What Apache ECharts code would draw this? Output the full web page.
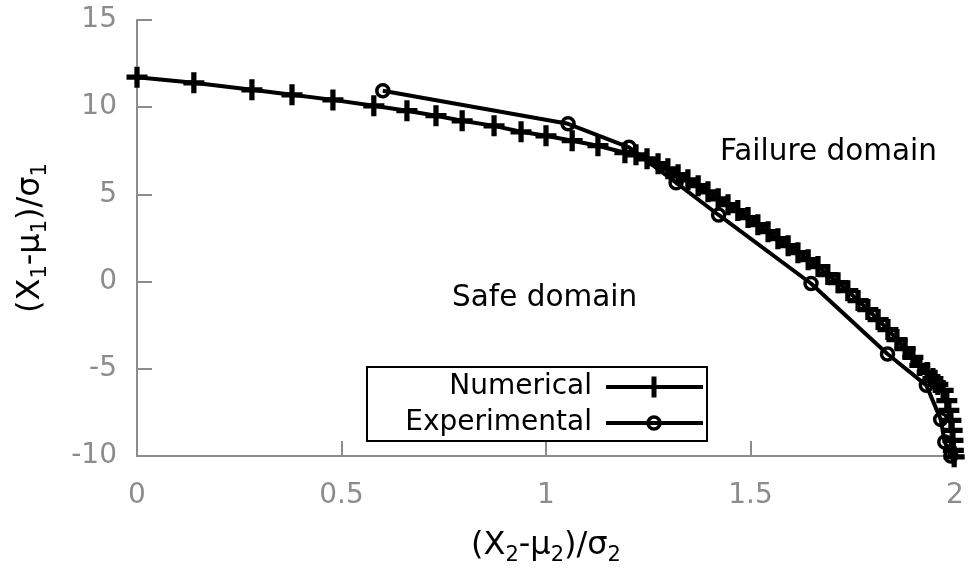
<!DOCTYPE html>
<html>
<head>
<meta charset="utf-8">
<script src="https://cdn.jsdelivr.net/npm/echarts@6/dist/echarts.min.js"></script>
<style>
  html, body { margin: 0; padding: 0; background: #fff; }
  #chart { width: 968px; height: 574px; }
</style>
</head>
<body>
<div id="chart"></div>
<script>
// Limit-state curve in standardised coordinates: u2 = (X2-mu2)/sigma2, u1 = (X1-mu1)/sigma1
const numericalU2 = [0, 0.139, 0.281, 0.379, 0.479, 0.579, 0.660, 0.731, 0.795, 0.873, 0.939, 1.0, 1.064, 1.127, 1.193,
  1.220, 1.247, 1.274, 1.298, 1.323, 1.347, 1.372, 1.396, 1.421, 1.445, 1.469, 1.494, 1.518, 1.543, 1.567, 1.592,
  1.616, 1.641, 1.665, 1.689, 1.714, 1.738, 1.763, 1.787, 1.812, 1.836, 1.858, 1.878, 1.897, 1.914, 1.932, 1.946,
  1.958, 1.971, 1.980, 1.985, 1.990, 1.993, 1.995, 1.996, 1.998];
const numericalU1 = [11.72, 11.40, 11.00, 10.71, 10.42, 10.08, 9.80, 9.51, 9.22, 8.93, 8.59, 8.36, 8.08, 7.79, 7.39,
  7.27, 7.04, 6.76, 6.47, 6.13, 5.84, 5.50, 5.15, 4.75, 4.41, 4.07, 3.67, 3.26, 2.86, 2.46, 2.06,
  1.66, 1.26, 0.86, 0.40, -0.06, -0.52, -1.09, -1.60, -2.18, -2.75, -3.32, -3.84, -4.35, -4.81, -5.21, -5.56,
  -5.90, -6.24, -6.82, -7.39, -7.96, -8.53, -9.10, -9.68, -10.05];

const experimentalU2 = [0.601, 1.054, 1.203, 1.318, 1.422, 1.648, 1.835, 1.930, 1.965, 1.975, 1.990];
const experimentalU1 = [10.94, 9.05, 7.70, 5.67, 3.82, -0.11, -4.15, -5.95, -7.90, -9.20, -10.00];

const xTicks = { min: 0, max: 2, step: 0.5 };
const yTicks = { min: -10, max: 15, step: 5 };

const seriesNames = ['Numerical', 'Experimental'];
const regionLabels = ['Failure domain', 'Safe domain'];

const FONT = 'DejaVu Sans';
const AXIS_GREY = '#8c8c8c';
const PLUS = 'path://M7.5,0h5v7.5h7.5v5h-7.5v7.5h-5v-7.5h-7.5v-5h7.5z';

function pairs(xs, ys) { return xs.map((x, i) => [x, ys[i]]); }

const chart = echarts.init(document.getElementById('chart'), null, { renderer: 'canvas' });

const subRich = {
  s: { fontSize: 21, lineHeight: 21, verticalAlign: 'bottom', fontFamily: FONT, color: '#000' }
};

function axisCommon() {
  return {
    type: 'value',
    axisLine: { show: true, onZero: false, lineStyle: { color: AXIS_GREY, width: 2 } },
    axisTick: { show: true, inside: true, length: 15, lineStyle: { color: AXIS_GREY, width: 2 } },
    splitLine: { show: false },
    axisLabel: { color: AXIS_GREY, fontSize: 28, fontFamily: FONT },
    nameLocation: 'middle',
    nameTextStyle: { color: '#000', fontSize: 32, fontFamily: FONT, lineHeight: 40, rich: subRich }
  };
}

const xAxis = Object.assign(axisCommon(), {
  min: xTicks.min, max: xTicks.max, interval: xTicks.step,
  name: '(X{s|2}-μ{s|2})/σ{s|2}',
  nameGap: 70
});
xAxis.axisLabel = Object.assign({}, xAxis.axisLabel, { margin: 26 });

const yAxis = Object.assign(axisCommon(), {
  min: yTicks.min, max: yTicks.max, interval: yTicks.step,
  name: '(X{s|1}-μ{s|1})/σ{s|1}',
  nameGap: 86
});
yAxis.axisLabel = Object.assign({}, yAxis.axisLabel, { margin: 20 });

// Legend box drawn with graphic elements: text right-aligned, sample line on the right
const legendLeft = 367, legendTop = 367, legendW = 340, legendH = 74;
const rowY = [387, 423];
const sampleX0 = 606, sampleX1 = 703, sampleMid = 654;

const option = {
  animation: false,
  backgroundColor: '#fff',
  grid: { left: 137, right: 13, top: 20, bottom: 118, containLabel: false },
  xAxis: xAxis,
  yAxis: yAxis,
  series: [
    {
      name: seriesNames[0],
      type: 'line',
      data: pairs(numericalU2, numericalU1),
      symbol: PLUS,
      symbolSize: 21,
      symbolKeepAspect: true,
      clip: false,
      lineStyle: { color: '#000', width: 4 },
      itemStyle: { color: '#000' },
      z: 2
    },
    {
      name: seriesNames[1],
      type: 'line',
      data: pairs(experimentalU2, experimentalU1),
      symbol: 'circle',
      symbolSize: 12,
      clip: false,
      lineStyle: { color: '#000', width: 4 },
      itemStyle: { color: 'rgba(255,255,255,0)', borderColor: '#000', borderWidth: 3.5 },
      z: 3
    }
  ],
  graphic: [
    { type: 'text', left: 720, top: 137, style: { text: regionLabels[0], fontSize: 29.5, fontFamily: FONT, fill: '#000' } },
    { type: 'text', left: 452, top: 283, style: { text: regionLabels[1], fontSize: 29.5, fontFamily: FONT, fill: '#000' } },
    {
      type: 'rect', z: 10,
      shape: { x: legendLeft, y: legendTop, width: legendW, height: legendH },
      style: { fill: '#fff', stroke: '#000', lineWidth: 2 }
    },
    {
      type: 'text', z: 11, x: 592, y: rowY[0],
      style: { text: seriesNames[0], fontSize: 28, fontFamily: FONT, fill: '#000', align: 'right', verticalAlign: 'middle' }
    },
    {
      type: 'text', z: 11, x: 592, y: rowY[1],
      style: { text: seriesNames[1], fontSize: 28, fontFamily: FONT, fill: '#000', align: 'right', verticalAlign: 'middle' }
    },
    {
      type: 'line', z: 11,
      shape: { x1: sampleX0, y1: rowY[0], x2: sampleX1, y2: rowY[0] },
      style: { stroke: '#000', lineWidth: 4 }
    },
    {
      type: 'rect', z: 12,
      shape: { x: sampleMid - 2.5, y: rowY[0] - 10.5, width: 5, height: 21 },
      style: { fill: '#000' }
    },
    {
      type: 'line', z: 11,
      shape: { x1: sampleX0, y1: rowY[1], x2: sampleX1, y2: rowY[1] },
      style: { stroke: '#000', lineWidth: 4 }
    },
    {
      type: 'circle', z: 12,
      shape: { cx: sampleMid, cy: rowY[1], r: 6 },
      style: { fill: 'none', stroke: '#000', lineWidth: 3.5 }
    }
  ]
};

chart.setOption(option);
</script>
</body>
</html>
